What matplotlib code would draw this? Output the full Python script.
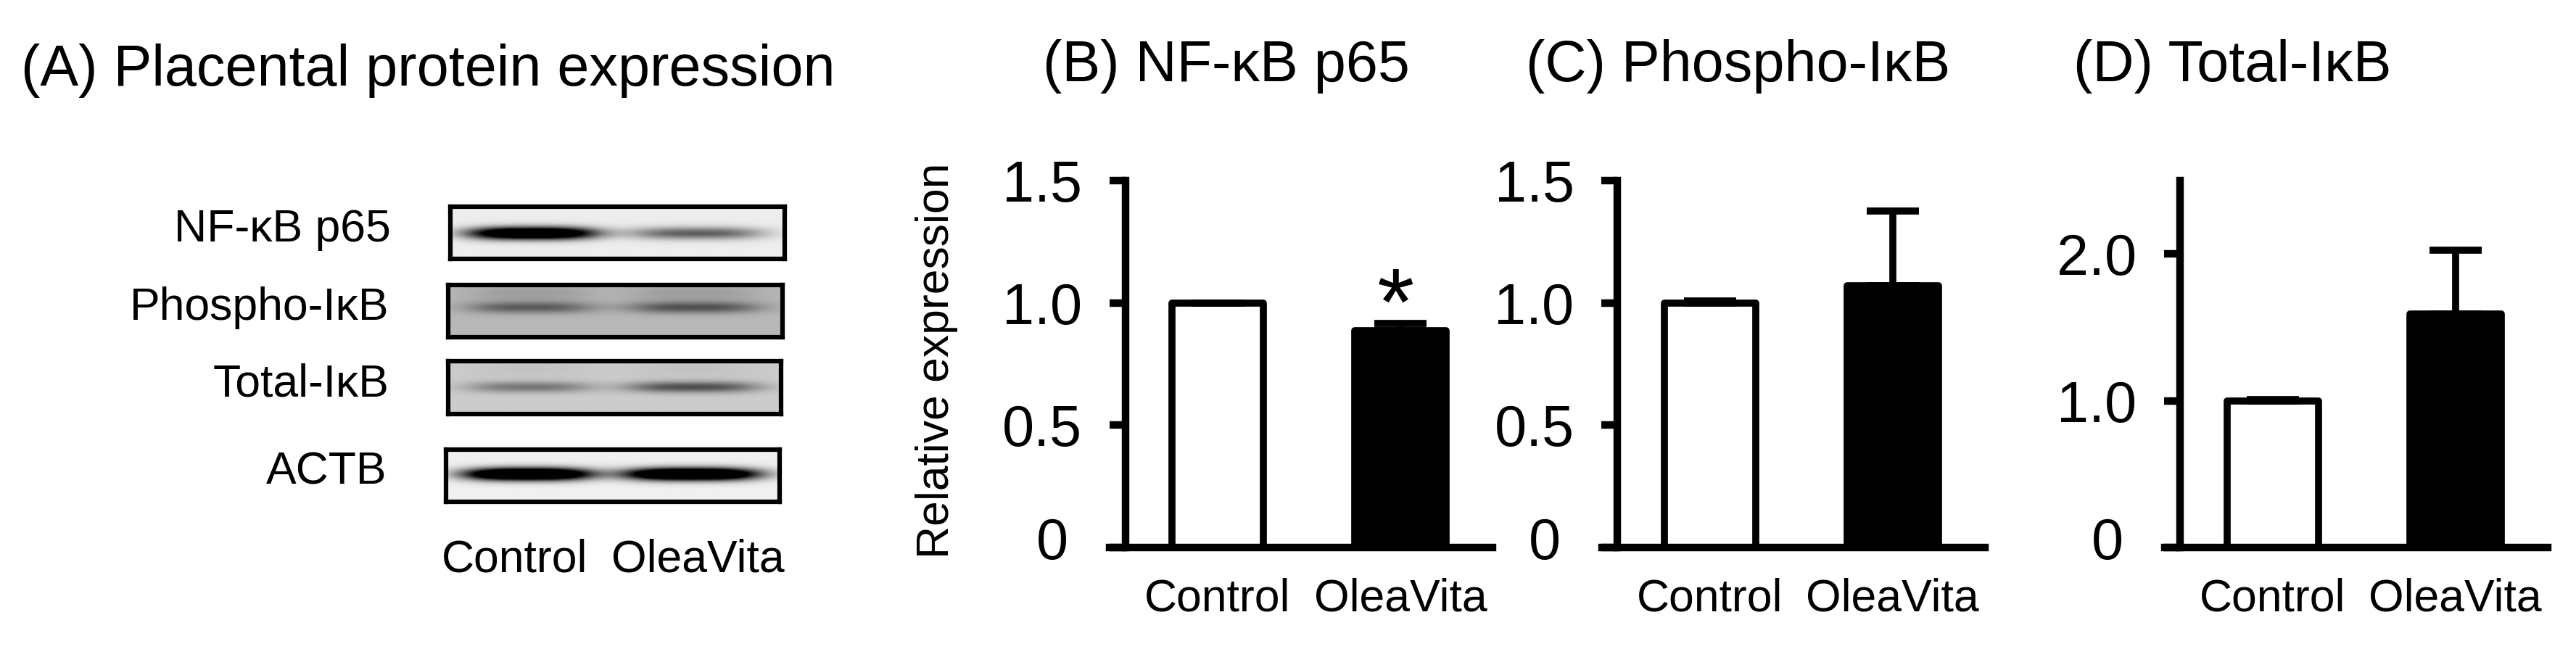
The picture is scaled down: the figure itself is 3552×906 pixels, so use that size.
import matplotlib.pyplot as plt
import numpy as np
from matplotlib.transforms import ScaledTranslation

plt.rcParams['font.family'] = ['Liberation Sans', 'DejaVu Sans']

W, H = 3552, 906

groups = ["Control", "OleaVita"]

# (A) western blot: background level and band density per lane
blot_names = ["NF-κB p65", "Phospho-IκB", "Total-IκB", "ACTB"]
blot_background = [0.93, 0.72, 0.80, 0.94]
band_density = [[1.60, 0.60],
                [0.50, 0.56],
                [0.42, 0.62],
                [1.80, 1.80]]
smear_density = [0.0, 0.14, 0.04, 0.0]

# (B)-(D) bar charts
bar_titles = ["(B) NF-κB p65", "(C) Phospho-IκB", "(D) Total-IκB"]
means = [[1.0, 0.885], [1.0, 1.07], [1.0, 1.59]]
sems = [[0.0, 0.03], [0.008, 0.305], [0.01, 0.435]]
ymax = [1.5, 1.5, 2.5]
yticks = [[0, 0.5, 1.0, 1.5], [0, 0.5, 1.0, 1.5], [0, 1.0, 2.0]]
ytick_labels = [["0", "0.5", "1.0", "1.5"], ["0", "0.5", "1.0", "1.5"], ["0", "1.0", "2.0"]]
signif = ["*", "", ""]


def px_box(x0, y0, x1, y1):
    # pixel box (top-left origin) -> figure fraction rect
    return [x0 / W, 1 - y1 / H, (x1 - x0) / W, (y1 - y0) / H]


fig = plt.figure(figsize=(W / 100, H / 100), dpi=100)

# ---------------------------
# Panel A: blot images
# ---------------------------
fig.text(29 / W, 1 - 118 / H, "(A) Placental protein expression", fontsize=57,
         ha='left', va='baseline')

blot_boxes = [(621, 285, 1082, 357), (618, 393, 1079, 465),
              (618, 498, 1077, 571), (615, 620, 1075, 692)]
band_row = [0.51, 0.43, 0.49, 0.47]
band_sigma = [0.085, 0.08, 0.075, 0.085]
lane_center = [0.245, 0.735]
lane_halfwidth = [0.19, 0.20]

xx = np.linspace(0, 1, 460)
yy = np.linspace(0, 1, 72)[:, None]
for i, name in enumerate(blot_names):
    ax = fig.add_axes(px_box(*blot_boxes[i]))
    dark = np.zeros((len(yy), len(xx)))
    for j in range(len(groups)):
        hprof = np.exp(-(np.abs(xx - lane_center[j]) / lane_halfwidth[j]) ** 3)
        vprof = np.exp(-0.5 * ((yy - band_row[i]) / band_sigma[i]) ** 2)
        smear = np.exp(-0.5 * ((yy - 0.15) / 0.12) ** 2)
        dark += band_density[i][j] * hprof * vprof + smear_density[i] * hprof * smear
    img = blot_background[i] * (1 - np.clip(dark, 0, 1))
    ax.imshow(img, cmap='gray', vmin=0, vmax=1, aspect='auto',
              extent=(0, 1, 1, 0), interpolation='bilinear')
    ax.set_xticks([])
    ax.set_yticks([])
    for sp in ax.spines.values():
        sp.set_linewidth(4.5)
    ax.text(-0.178, 0.34, name, transform=ax.transAxes, fontsize=45,
            ha='right', va='baseline')
    if i == len(blot_names) - 1:
        for j, g in enumerate(groups):
            ax.text([0.205, 0.755][j], -1.34, g, transform=ax.transAxes,
                    fontsize=45, ha='center', va='baseline')

# ---------------------------
# Panels B-D: bar charts
# ---------------------------
axes_left = [1530, 2208.6, 2984.6]
title_left = [1438, 2104, 2859]
x = np.arange(len(groups))
for k in range(3):
    ax = fig.add_axes(px_box(axes_left[k], 249, axes_left[k] + 528.2, 755))
    ax.bar(x, means[k], width=0.5, color=['white', 'black'], edgecolor='black',
           linewidth=7, joinstyle='round', zorder=2)
    ax.errorbar(x, means[k], yerr=[np.zeros(len(x)), sems[k]], fmt='none',
                ecolor='black', elinewidth=7, capsize=26, capthick=7, zorder=3)
    ax.set_xlim(-0.591, 1.505)
    ax.set_ylim(0, ymax[k])
    ax.spines['top'].set_visible(False)
    ax.spines['right'].set_visible(False)
    ax.spines['left'].set_position(('data', -0.505))
    ax.spines['left'].set_linewidth(7.5)
    ax.spines['bottom'].set_linewidth(7.5)
    ax.set_yticks(yticks[k])
    ax.set_yticklabels(ytick_labels[k])
    ax.set_xticks(x)
    ax.set_xticklabels(groups)
    ax.tick_params(axis='y', direction='out', length=16, width=7.5,
                   labelsize=57, pad=27)
    ax.tick_params(axis='x', length=0, labelsize=45, pad=30)
    # the "0" label sits a bit up-left in the original
    zero = ax.get_yticklabels()[0]
    zero.set_transform(zero.get_transform() +
                       ScaledTranslation(-0.19, 0.13, fig.dpi_scale_trans))
    if signif[k]:
        ax.text(0.975, 0.87, signif[k], fontsize=95, ha='center', va='baseline')
    if k == 0:
        ax.set_ylabel("Relative expression", fontsize=45, va='center')
        ax.yaxis.set_label_coords(-0.4506, 0.51)
    fig.text(title_left[k] / W, 1 - 112 / H, bar_titles[k], fontsize=57,
             ha='left', va='baseline')

fig.savefig("out.png", dpi=100, facecolor='white')
